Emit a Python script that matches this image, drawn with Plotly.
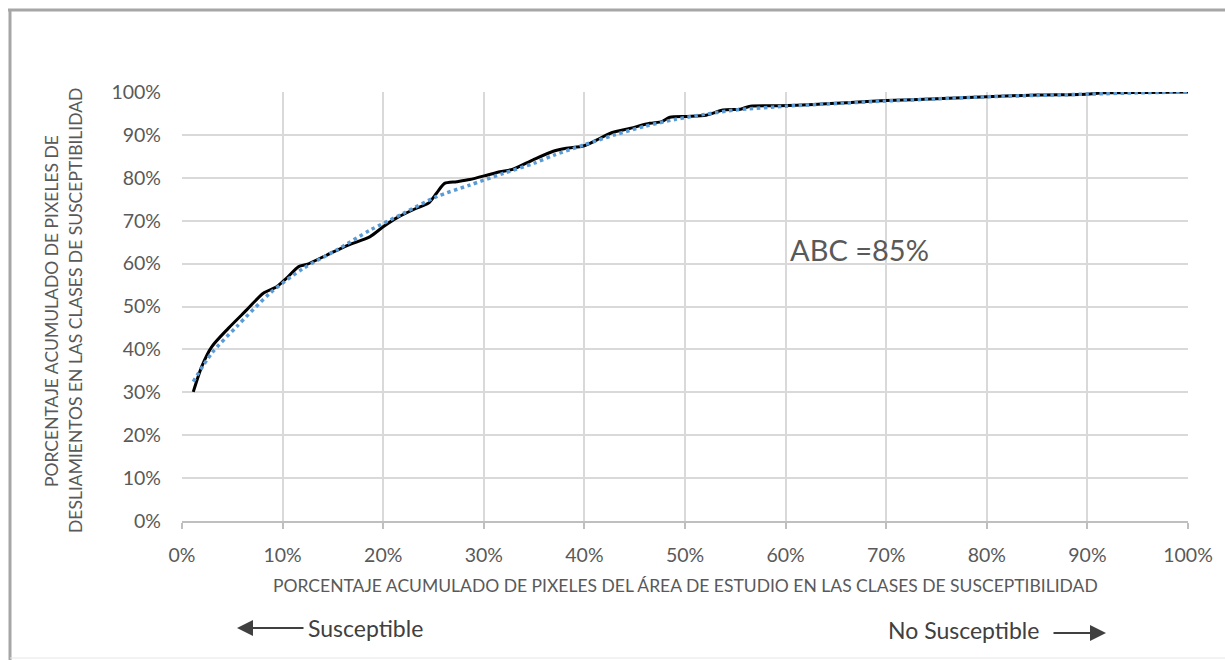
import plotly.graph_objects as go

# Cumulative % of study-area pixels (x) vs cumulative % of landslide pixels (y)
obs_x = [1.12, 1.96, 2.95, 4.6, 6.43, 8.08, 9.41, 10.4, 11.6, 12.4, 14.4, 16.4, 18.7, 20.0,
         21.3, 23.3, 24.5, 25.3, 26.1, 27.3, 28.6, 30.3, 31.6, 32.9, 34.9, 36.9, 38.2, 39.9,
         41.2, 42.7, 44.5, 46.5, 47.7, 48.5, 50.2, 52.1, 53.8, 55.5, 56.5, 59.4, 62.8, 66.1,
         70.0, 75.0, 80.0, 85.0, 89.9, 91.6, 96.0, 100.0]
obs_y = [30.1, 36.0, 40.6, 44.9, 49.2, 53.1, 54.6, 56.6, 59.3, 59.8, 62.0, 64.2, 66.3, 68.6,
         70.6, 72.9, 74.1, 76.4, 78.7, 79.1, 79.6, 80.6, 81.4, 82.0, 84.2, 86.2, 86.9, 87.4,
         88.8, 90.5, 91.5, 92.7, 93.1, 94.1, 94.3, 94.6, 95.8, 96.0, 96.7, 96.8, 97.1, 97.5,
         98.0, 98.4, 98.9, 99.3, 99.5, 99.8, 99.9, 100.0]

fit_x = [1.12, 2.95, 5.43, 8.75, 12.06, 15.4, 18.7, 22.0, 25.3, 28.6, 31.9, 35.0, 37.0, 40.0,
         43.0, 46.0, 49.0, 52.0, 55.0, 60.0, 65.0, 70.0, 75.0, 80.0, 85.0, 90.0, 95.0, 100.0]
fit_y = [32.5, 39.1, 45.3, 53.1, 58.9, 63.2, 67.8, 71.7, 75.6, 78.3, 81.0, 83.4, 85.3, 87.7,
         90.0, 92.0, 93.6, 94.8, 95.8, 96.7, 97.3, 97.9, 98.4, 98.9, 99.2, 99.5, 99.8, 100.0]

x_ticks = [0, 10, 20, 30, 40, 50, 60, 70, 80, 90, 100]
y_ticks = [0, 10, 20, 30, 40, 50, 60, 70, 80, 90, 100]
tick_text = [f"{v}%" for v in x_ticks]

abc_label = "ABC =85%"
x_title = "PORCENTAJE ACUMULADO DE PIXELES DEL ÁREA DE ESTUDIO EN LAS CLASES DE SUSCEPTIBILIDAD"
y_title_1 = "PORCENTAJE ACUMULADO DE PIXELES DE"
y_title_2 = "DESLIAMIENTOS EN LAS CLASES DE SUSCEPTIBILIDAD"

FONT = "Lato"
GREY = "#595959"

fig = go.Figure()
fig.add_trace(go.Scatter(x=obs_x, y=obs_y, mode="lines",
                         line=dict(color="#000000", width=3, shape="spline", smoothing=0.7),
                         showlegend=False))
fig.add_trace(go.Scatter(x=fit_x, y=fit_y, mode="lines",
                         line=dict(color="#5b9bd5", width=3.5, dash="dot", shape="spline", smoothing=0.8),
                         showlegend=False))

L, R, T, B = 182, 1188, 92, 521
W, H = 1225, 660
pw, ph = R - L, B - T

def px(xp):
    return (xp - L) / pw

def py(yp):
    return (B - yp) / ph

fig.update_layout(
    width=W, height=H,
    margin=dict(l=L, r=W - R, t=T, b=H - B, pad=0),
    paper_bgcolor="white", plot_bgcolor="white",
    font=dict(family=FONT, color=GREY),
)
fig.update_xaxes(range=[0, 100], tickvals=x_ticks, ticktext=tick_text,
                 showgrid=True, gridcolor="#d9d9d9", gridwidth=1.5,
                 showline=True, linecolor="#bfbfbf", linewidth=1.5,
                 ticks="outside", ticklen=6, tickcolor="#bfbfbf", tickwidth=1.5,
                 tickfont=dict(size=19.5, color=GREY, family=FONT),
                 ticklabelstandoff=10, zeroline=False)
fig.update_yaxes(range=[0, 100], tickvals=y_ticks, ticktext=[f"{v}%" for v in y_ticks],
                 showgrid=True, gridcolor="#d9d9d9", gridwidth=1.5,
                 showline=False, ticks="",
                 tickfont=dict(size=19.5, color=GREY, family=FONT),
                 ticklabelstandoff=20, zeroline=False)

anns = [
    dict(x=60.2, y=63.2, xref="x", yref="y", text=abc_label, showarrow=False,
         xanchor="left", yanchor="middle", font=dict(size=29, color=GREY, family=FONT)),
    dict(x=0.5, y=py(585), xref="paper", yref="paper", text=x_title, showarrow=False,
         xanchor="center", yanchor="middle", font=dict(size=17.5, color=GREY, family=FONT)),
    dict(x=px(51), y=py(311), xref="paper", yref="paper", text=y_title_1, showarrow=False,
         textangle=-90, xanchor="center", yanchor="middle", font=dict(size=17.5, color=GREY, family=FONT)),
    dict(x=px(75), y=py(311), xref="paper", yref="paper", text=y_title_2, showarrow=False,
         textangle=-90, xanchor="center", yanchor="middle", font=dict(size=17.5, color=GREY, family=FONT)),
    dict(x=px(306), y=py(628), xref="paper", yref="paper", text="Susceptible", showarrow=False,
         xanchor="left", yanchor="middle", font=dict(size=23, color="#404040", family=FONT)),
    dict(x=px(886), y=py(630), xref="paper", yref="paper", text="No Susceptible", showarrow=False,
         xanchor="left", yanchor="middle", font=dict(size=23, color="#404040", family=FONT)),
    dict(x=px(237), y=py(628), xref="paper", yref="paper", text="", showarrow=True,
         ax=68, ay=0, arrowhead=2, arrowsize=1.6, arrowwidth=2, arrowcolor="#404040"),
    dict(x=px(1106), y=py(633), xref="paper", yref="paper", text="", showarrow=True,
         ax=-54, ay=0, arrowhead=2, arrowsize=1.6, arrowwidth=2, arrowcolor="#404040"),
]
fig.update_layout(annotations=anns)

shapes = [
    dict(type="line", xref="paper", yref="paper", x0=px(8), x1=px(1226), y0=py(10), y1=py(10),
         line=dict(color="#a6a6a6", width=3)),
    dict(type="line", xref="paper", yref="paper", x0=px(10), x1=px(10), y0=py(9), y1=py(661),
         line=dict(color="#a6a6a6", width=3)),
    dict(type="line", xref="paper", yref="paper", x0=px(10), x1=px(1226), y0=py(658), y1=py(658),
         line=dict(color="#e6e6e6", width=1)),
]
fig.update_layout(shapes=shapes)

fig.write_html("out.html", config={"displayModeBar": False},
               post_script="document.body.style.margin='0px';document.body.style.padding='0px';")
